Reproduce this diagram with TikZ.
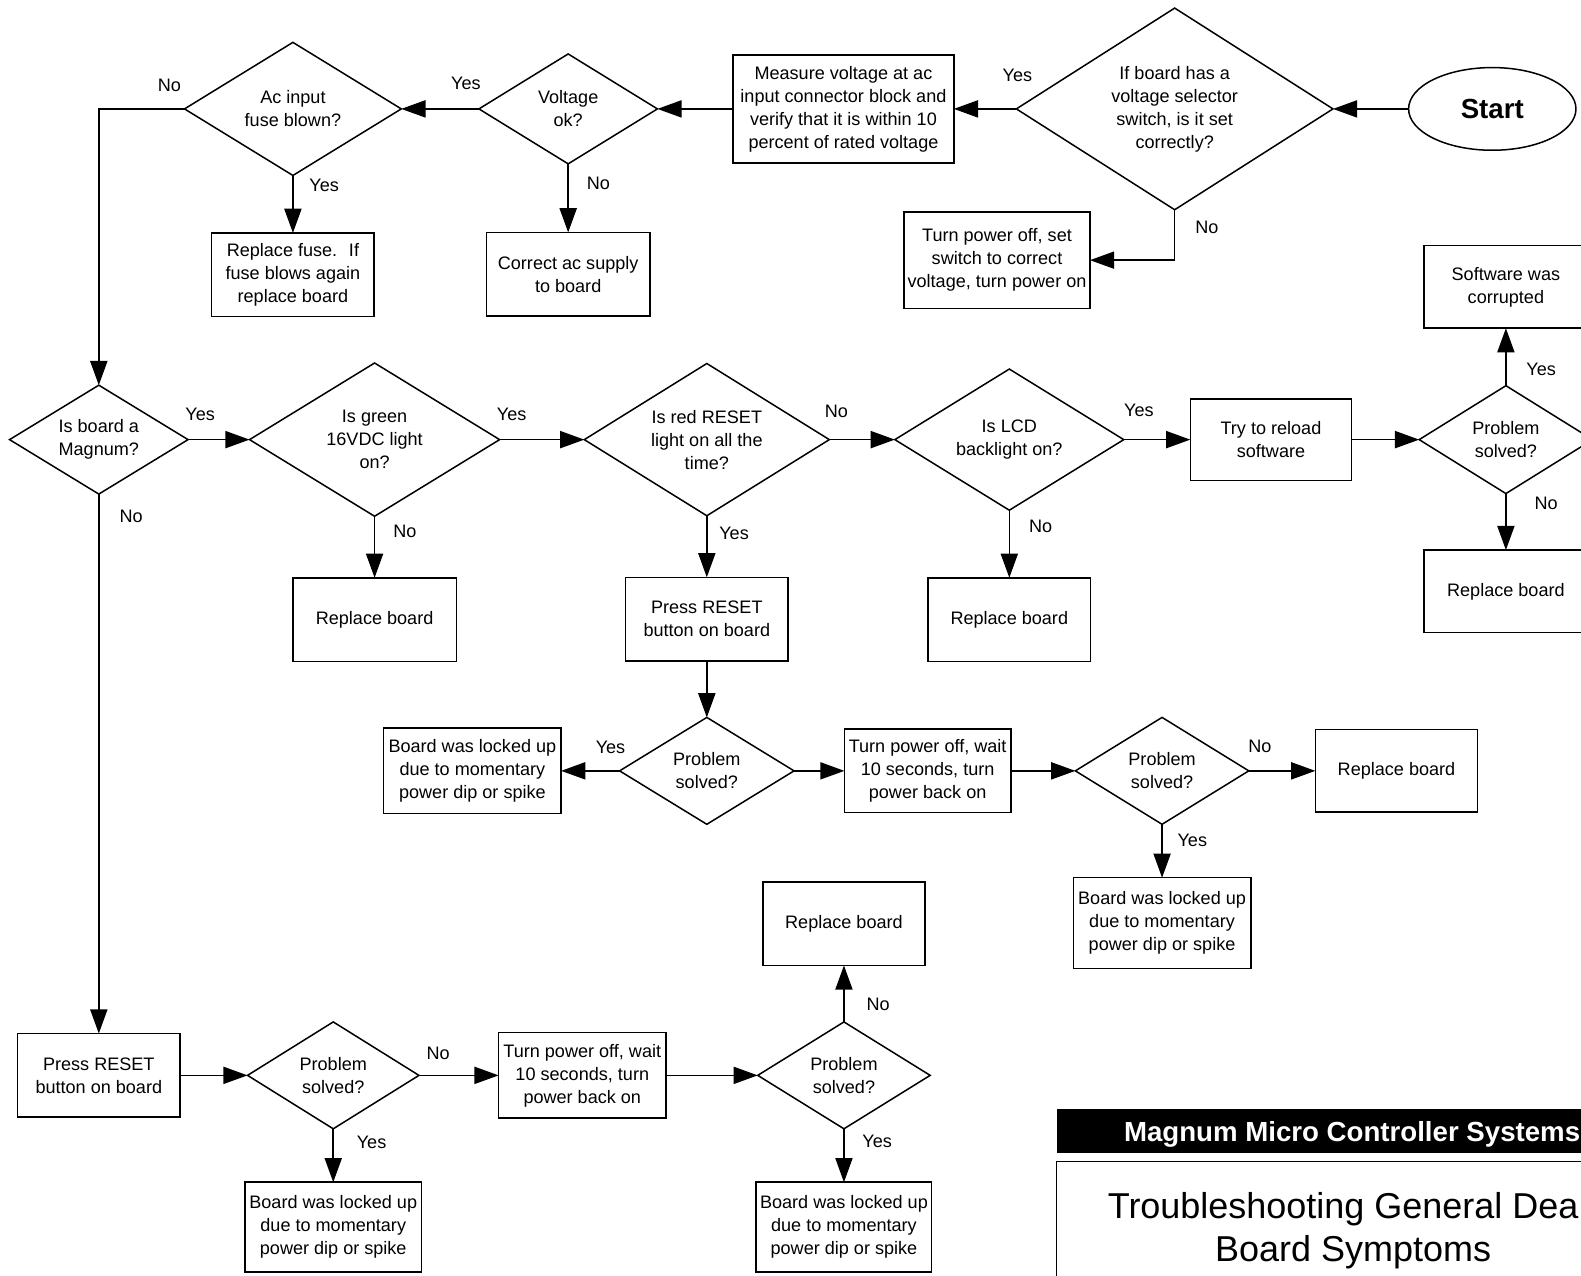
\documentclass[tikz,border=0pt]{standalone}
\usepackage{fontspec}
\setmainfont{Liberation Sans}
\usetikzlibrary{shapes.geometric,arrows.meta,positioning}
\tikzset{
  state/.style={
    rectangle,
    draw=black, line width=0.85pt,
    inner sep=2pt, outer sep=0pt
  },
  decision/.style={
    diamond, aspect=1.6,
    draw=black, line width=0.85pt,
    inner sep=0pt, outer sep=0pt
  },
  terminal/.style={
    ellipse,
    draw=black, line width=0.85pt,
    inner sep=0pt, outer sep=0pt
  },
  answer/.style={pos=0, inner sep=0pt},
}

\begin{document}
\begin{tikzpicture}[->, >={Triangle[length=0.48cm,width=0.34cm]}, line width=0.85pt, font=\fontsize{10.2}{13}\selectfont, every text node part/.style={align=center}]

\useasboundingbox (0,0) rectangle (31.36,-25.3);

% top row, right to left
\node[terminal, minimum width=3.32cm, minimum height=1.64cm, font=\fontsize{15.6}{18}\selectfont\bfseries] (START) at (29.6,-2.16) {Start};
\node[decision, left=1.5cm of START.west, anchor=east, minimum width=6.28cm, minimum height=4cm] (VSEL) {If board has a\\voltage selector\\switch, is it set\\correctly?};
\node[state, left=1.68cm of VSEL.south, anchor=east, yshift=-1cm, minimum width=3.68cm, minimum height=1.92cm] (FIXSW) {Turn power off, set\\switch to correct\\voltage, turn power on};
\node[state, left=1.24cm of VSEL.west, anchor=east, minimum width=4.38cm, minimum height=2.14cm] (MEASURE) {Measure voltage at ac\\input connector block and\\verify that it is within 10\\percent of rated voltage};
\node[decision, left=1.5cm of MEASURE.west, anchor=east, minimum width=3.54cm, minimum height=2.18cm] (VOLTOK) {Voltage\\ok?};
\node[state, below=1.36cm of VOLTOK.south, anchor=north, minimum width=3.24cm, minimum height=1.66cm] (ACFIX) {Correct ac supply\\to board};
\node[decision, left=1.54cm of VOLTOK.west, anchor=east, minimum width=4.3cm, minimum height=2.64cm] (FUSE) {Ac input\\fuse blown?};
\node[state, below=1.14cm of FUSE.south, anchor=north, minimum width=3.22cm, minimum height=1.66cm] (NEWFUSE) {Replace fuse.~ If\\fuse blows again\\replace board};

% second row
\node[decision, minimum width=3.54cm, minimum height=2.16cm] (MAGNUM) at (1.96,-8.72) {Is board a\\Magnum?};
\node[decision, right=1.22cm of MAGNUM.east, anchor=west, minimum width=4.96cm, minimum height=3.04cm] (GREEN) {Is green\\16VDC light\\on?};
\node[state, below=1.22cm of GREEN.south, anchor=north, minimum width=3.24cm, minimum height=1.66cm] (REPLA) {Replace board};
\node[decision, right=1.68cm of GREEN.east, anchor=west, minimum width=4.86cm, minimum height=3.02cm] (RESETLT) {Is red RESET\\light on all the\\time?};
\node[state, below=1.22cm of RESETLT.south, anchor=north, minimum width=3.22cm, minimum height=1.66cm] (PRESSA) {Press RESET\\button on board};
\node[decision, right=1.3cm of RESETLT.east, anchor=west, minimum width=4.54cm, minimum height=2.8cm] (LCD) {Is LCD\\backlight on?};
\node[state, below=1.34cm of LCD.south, anchor=north, minimum width=3.22cm, minimum height=1.66cm] (REPLB) {Replace board};
\node[state, right=1.32cm of LCD.east, anchor=west, minimum width=3.2cm, minimum height=1.62cm] (RELOAD) {Try to reload\\software};
\node[decision, right=1.34cm of RELOAD.east, anchor=west, minimum width=3.44cm, minimum height=2.14cm] (SOLVEDA) {Problem\\solved?};
\node[state, above=1.14cm of SOLVEDA.north, anchor=south, minimum width=3.24cm, minimum height=1.64cm] (CORRUPT) {Software was\\corrupted};
\node[state, below=1.12cm of SOLVEDA.south, anchor=north, minimum width=3.24cm, minimum height=1.64cm] (REPLC) {Replace board};

% third row
\node[decision, below=1.12cm of PRESSA.south, anchor=north, minimum width=3.46cm, minimum height=2.12cm] (SOLVEDB) {Problem\\solved?};
\node[state, left=1.16cm of SOLVEDB.west, anchor=east, minimum width=3.52cm, minimum height=1.7cm] (LOCKEDA) {Board was locked up\\due to momentary\\power dip or spike};
\node[state, right=1cm of SOLVEDB.east, anchor=west, minimum width=3.3cm, minimum height=1.66cm] (CYCLEA) {Turn power off, wait\\10 seconds, turn\\power back on};
\node[decision, right=1.28cm of CYCLEA.east, anchor=west, minimum width=3.44cm, minimum height=2.12cm] (SOLVEDC) {Problem\\solved?};
\node[state, right=1.32cm of SOLVEDC.east, anchor=west, minimum width=3.22cm, minimum height=1.64cm] (REPLD) {Replace board};
\node[state, below=1.06cm of SOLVEDC.south, anchor=north, minimum width=3.52cm, minimum height=1.8cm] (LOCKEDB) {Board was locked up\\due to momentary\\power dip or spike};

% bottom row
\node[state, below=10.7cm of MAGNUM.south, anchor=north, minimum width=3.22cm, minimum height=1.66cm] (PRESSB) {Press RESET\\button on board};
\node[decision, right=1.34cm of PRESSB.east, anchor=west, minimum width=3.4cm, minimum height=2.12cm] (SOLVEDD) {Problem\\solved?};
\node[state, below=1.06cm of SOLVEDD.south, anchor=north, minimum width=3.5cm, minimum height=1.78cm] (LOCKEDC) {Board was locked up\\due to momentary\\power dip or spike};
\node[state, right=1.58cm of SOLVEDD.east, anchor=west, minimum width=3.32cm, minimum height=1.7cm] (CYCLEB) {Turn power off, wait\\10 seconds, turn\\power back on};
\node[decision, right=1.82cm of CYCLEB.east, anchor=west, minimum width=3.42cm, minimum height=2.12cm] (SOLVEDE) {Problem\\solved?};
\node[state, above=1.12cm of SOLVEDE.north, anchor=south, minimum width=3.22cm, minimum height=1.66cm] (REPLE) {Replace board};
\node[state, below=1.06cm of SOLVEDE.south, anchor=north, minimum width=3.48cm, minimum height=1.78cm] (LOCKEDD) {Board was locked up\\due to momentary\\power dip or spike};

% title block
\fill[-] (20.96,-22.0) rectangle (32.5,-22.86);
\draw[-] (20.96,-23.04) rectangle (32.5,-26);
\node[anchor=base west, inner sep=0pt, text=white, font=\fontsize{15.6}{18}\selectfont\bfseries] (BANNER) at (22.28,-22.64) {Magnum Micro Controller Systems};
\node[font=\fontsize{20.3}{24.5}\selectfont] (TITLE) at (26.84,-24.41) {Troubleshooting General Dea\phantom{d}\\Board Symptoms};

% connectors
\draw (START.west) -- (VSEL.east);
\draw (VSEL.west) -- node[answer, xshift=0.02cm, yshift=0.66cm] {Yes} (MEASURE.east);
\draw (VSEL.south) |- node[answer, xshift=0.64cm, yshift=-0.34cm] {No} (FIXSW.east);
\draw (MEASURE.west) -- (VOLTOK.east);
\draw (VOLTOK.west) -- node[answer, xshift=-0.26cm, yshift=0.5cm] {Yes} (FUSE.east);
\draw (VOLTOK.south) -- node[answer, xshift=0.6cm, yshift=-0.38cm] {No} (ACFIX.north);
\draw (FUSE.south) -- node[answer, xshift=0.62cm, yshift=-0.2cm] {Yes} (NEWFUSE.north);
\draw (FUSE.west) -| node[answer, xshift=-0.3cm, yshift=0.46cm] {No} (MAGNUM.north);

\draw (MAGNUM.east) -- node[answer, xshift=0.24cm, yshift=0.5cm] {Yes} (GREEN.west);
\draw (MAGNUM.south) -- node[answer, xshift=0.64cm, yshift=-0.44cm] {No} (PRESSB.north);
\draw (GREEN.south) -- node[answer, xshift=0.6cm, yshift=-0.3cm] {No} (REPLA.north);
\draw (GREEN.east) -- node[answer, xshift=0.24cm, yshift=0.5cm] {Yes} (RESETLT.west);
\draw (RESETLT.south) -- node[answer, xshift=0.54cm, yshift=-0.34cm] {Yes} (PRESSA.north);
\draw (RESETLT.east) -- node[answer, xshift=0.14cm, yshift=0.56cm] {No} (LCD.west);
\draw (LCD.south) -- node[answer, xshift=0.62cm, yshift=-0.32cm] {No} (REPLB.north);
\draw (LCD.east) -- node[answer, xshift=0.3cm, yshift=0.58cm] {Yes} (RELOAD.west);
\draw (RELOAD.east) -- (SOLVEDA.west);
\draw (SOLVEDA.north) -- node[answer, xshift=0.7cm, yshift=0.32cm] {Yes} (CORRUPT.south);
\draw (SOLVEDA.south) -- node[answer, xshift=0.8cm, yshift=-0.2cm] {No} (REPLC.north);

\draw (PRESSA.south) -- (SOLVEDB.north);
\draw (SOLVEDB.west) -- node[answer, xshift=-0.18cm, yshift=0.46cm] {Yes} (LOCKEDA.east);
\draw (SOLVEDB.east) -- (CYCLEA.west);
\draw (CYCLEA.east) -- (SOLVEDC.west);
\draw (SOLVEDC.east) -- node[answer, xshift=0.22cm, yshift=0.48cm] {No} (REPLD.west);
\draw (SOLVEDC.south) -- node[answer, xshift=0.6cm, yshift=-0.32cm] {Yes} (LOCKEDB.north);

\draw (PRESSB.east) -- (SOLVEDD.west);
\draw (SOLVEDD.south) -- node[answer, xshift=0.76cm, yshift=-0.26cm] {Yes} (LOCKEDC.north);
\draw (SOLVEDD.east) -- node[answer, xshift=0.38cm, yshift=0.44cm] {No} (CYCLEB.west);
\draw (CYCLEB.east) -- (SOLVEDE.west);
\draw (SOLVEDE.north) -- node[answer, xshift=0.68cm, yshift=0.34cm] {No} (REPLE.south);
\draw (SOLVEDE.south) -- node[answer, xshift=0.66cm, yshift=-0.24cm] {Yes} (LOCKEDD.north);
\end{tikzpicture}
\end{document}
